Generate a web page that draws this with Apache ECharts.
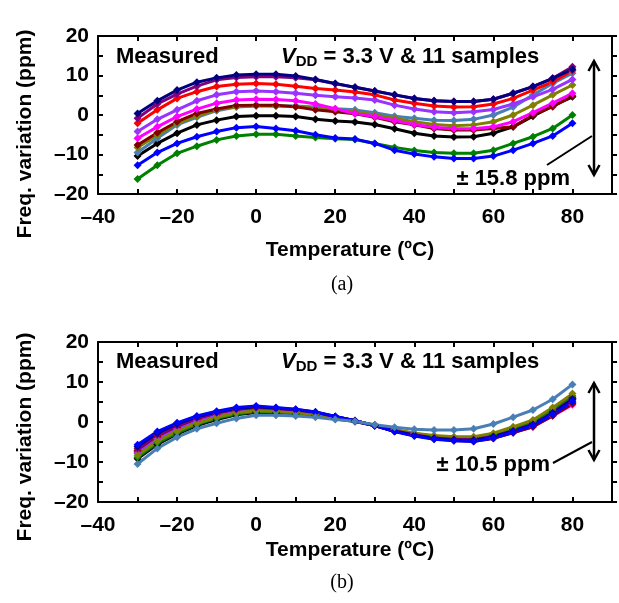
<!DOCTYPE html>
<html>
<head>
<meta charset="utf-8">
<script src="https://cdn.jsdelivr.net/npm/echarts@6/dist/echarts.min.js"></script>
<style>
  html, body { margin: 0; padding: 0; background: #fff; }
  #chart { width: 619px; height: 603px; }
</style>
</head>
<body>
<div id="chart"></div>
<script>
// temperature points (ºC)
var tempC = [-30, -25, -20, -15, -10, -5, 0, 5, 10, 15, 20, 25, 30, 35, 40, 45, 50, 55, 60, 65, 70, 75, 80]

// (a) before calibration, ppm
var aNavy    = [0.4, 3.6, 6.3, 8.3, 9.4, 10.1, 10.3, 10.3, 9.9, 9.0, 8.0, 7.0, 6.1, 5.1, 4.2, 3.6, 3.4, 3.4, 4.0, 5.5, 7.2, 9.3, 11.6]
var aPurple  = [-0.8, 2.8, 5.3, 7.3, 8.9, 9.5, 9.7, 9.7, 9.4, 8.9, 7.9, 7.0, 6.1, 5.1, 4.2, 3.6, 3.4, 3.4, 4.0, 5.5, 7.2, 9.3, 12.2]
var aRed     = [-2.1, 1.3, 4.2, 5.9, 7.2, 7.8, 8.0, 7.8, 7.3, 6.7, 6.3, 5.8, 5.1, 3.8, 3.0, 2.3, 2.0, 2.1, 2.8, 4.2, 6.3, 8.4, 11.2]
var aViolet  = [-4.2, -1.1, 1.3, 3.6, 5.1, 5.9, 6.1, 5.9, 5.5, 5.0, 4.6, 4.3, 3.8, 2.5, 1.5, 0.8, 0.6, 0.8, 1.4, 2.8, 4.6, 6.5, 9.0]
var aMagenta = [-5.9, -3.0, -0.4, 1.5, 3.0, 3.8, 4.0, 3.9, 3.6, 2.8, 1.6, 0.4, -0.4, -1.4, -2.4, -3.1, -3.5, -3.5, -3.0, -1.7, 0.6, 3.0, 5.5]
var aDarkRed = [-7.6, -4.5, -1.7, 0.4, 1.5, 2.4, 2.5, 2.5, 2.1, 1.3, 0.8, 0.3, -0.6, -1.7, -2.5, -3.4, -3.8, -3.8, -3.4, -3.0, 0.0, 2.1, 4.8]
var aOlive   = [-8.2, -5.1, -2.1, -0.3, 1.3, 2.1, 2.4, 2.3, 2.1, 1.7, 1.2, 0.8, 0.0, -0.8, -1.7, -2.4, -2.7, -2.5, -1.7, 0.0, 2.5, 5.1, 7.6]
var aSteel   = [-9.5, -5.9, -2.5, -0.6, 1.1, 2.0, 2.3, 2.3, 2.3, 2.0, 1.6, 1.3, 0.6, -0.3, -0.8, -1.3, -1.4, -1.1, 0.0, 2.0, 5.1, 8.0, 10.6]
var aBlack   = [-10.4, -7.2, -4.6, -2.5, -1.3, -0.4, -0.2, -0.2, -0.4, -1.1, -1.5, -1.8, -2.4, -3.5, -4.6, -5.3, -5.6, -5.5, -4.6, -3.0, -0.3, 2.3, 4.6]
var aBlue    = [-12.7, -9.5, -7.2, -5.5, -4.2, -3.2, -2.9, -3.4, -4.0, -5.0, -5.8, -6.1, -7.2, -8.9, -9.9, -10.6, -11.0, -11.0, -10.4, -8.9, -7.2, -5.3, -2.1]
var aGreen   = [-16.2, -12.7, -9.7, -7.9, -6.3, -5.3, -4.9, -4.9, -5.3, -5.7, -6.0, -6.2, -7.2, -8.2, -9.0, -9.5, -9.7, -9.7, -8.9, -7.2, -5.5, -3.4, 0.0]

// (b) after calibration, ppm
var bBlue    = [-5.7, -2.4, -0.2, 1.5, 2.7, 3.6, 4.0, 3.6, 3.2, 2.5, 1.4, 0.3, -0.9, -2.4, -3.5, -4.3, -4.7, -4.9, -4.0, -2.5, -0.9, 1.9, 5.2]
var bNavy    = [-6.1, -2.8, -0.5, 1.3, 2.5, 3.4, 3.8, 3.5, 3.1, 2.5, 1.4, 0.3, -0.9, -2.3, -3.3, -4.1, -4.5, -4.6, -3.7, -2.3, -0.7, 2.2, 5.6]
var bPurple  = [-6.6, -3.2, -0.9, 1.0, 2.3, 3.2, 3.6, 3.4, 3.0, 2.4, 1.3, 0.3, -0.9, -2.2, -3.2, -4.0, -4.3, -4.4, -3.6, -2.2, -0.6, 2.3, 5.8]
var bDarkRed = [-7.1, -3.6, -1.3, 0.7, 2.0, 3.0, 3.4, 3.2, 2.9, 2.3, 1.3, 0.3, -0.9, -2.3, -3.4, -4.2, -4.6, -4.8, -4.1, -2.7, -1.2, 1.6, 4.6]
var bRed     = [-7.3, -3.8, -1.5, 0.5, 1.8, 2.8, 3.3, 3.1, 2.8, 2.2, 1.2, 0.3, -0.9, -2.3, -3.3, -4.1, -4.5, -4.7, -4.0, -2.6, -1.1, 1.7, 4.8]
var bMagenta = [-7.6, -4.1, -1.7, 0.3, 1.7, 2.7, 3.1, 3.0, 2.7, 2.1, 1.1, 0.2, -0.9, -2.2, -3.3, -4.0, -4.4, -4.6, -4.0, -2.6, -1.2, 1.5, 4.3]
var bViolet  = [-7.8, -4.3, -1.9, 0.1, 1.5, 2.5, 3.0, 2.9, 2.6, 2.0, 1.1, 0.2, -0.9, -2.1, -3.1, -3.8, -4.1, -4.2, -3.5, -2.1, -0.5, 2.4, 5.9]
var bOlive   = [-8.3, -4.8, -2.3, -0.3, 1.2, 2.3, 2.8, 2.7, 2.4, 1.9, 1.0, 0.2, -0.8, -1.9, -2.8, -3.4, -3.7, -3.7, -2.8, -1.2, 0.5, 3.6, 7.1]
var bGreen   = [-8.8, -5.2, -2.7, -0.6, 0.9, 2.0, 2.6, 2.5, 2.2, 1.8, 0.9, 0.2, -0.8, -2.0, -2.9, -3.6, -3.9, -3.9, -3.1, -1.6, 0.1, 3.0, 6.5]
var bBlack   = [-9.2, -5.6, -3.0, -0.9, 0.6, 1.8, 2.4, 2.3, 2.1, 1.7, 0.8, 0.1, -0.9, -2.1, -3.1, -3.8, -4.1, -4.1, -3.4, -1.9, -0.3, 2.5, 6.0]
var bSteel   = [-10.5, -6.6, -3.8, -1.7, -0.3, 0.9, 1.7, 1.7, 1.5, 1.2, 0.6, 0.2, -0.7, -1.3, -1.8, -2.0, -2.0, -1.7, -0.5, 1.2, 3.0, 5.7, 9.4]

var sampleColors = {
  navy: '#000080', purple: '#800080', red: '#ff0000', violet: '#9933ff', magenta: '#ff00ff',
  darkRed: '#800000', olive: '#808000', steel: '#4a7fb5', black: '#000000', blue: '#0000ff', green: '#008000'
}

var topSets = [
  ['green', aGreen], ['blue', aBlue], ['black', aBlack], ['steel', aSteel], ['olive', aOlive], ['darkRed', aDarkRed],
  ['magenta', aMagenta], ['violet', aViolet], ['red', aRed], ['purple', aPurple], ['navy', aNavy]
]
var botSets = [
  ['magenta', bMagenta], ['red', bRed], ['darkRed', bDarkRed], ['violet', bViolet], ['black', bBlack], ['green', bGreen],
  ['olive', bOlive], ['purple', bPurple], ['navy', bNavy], ['blue', bBlue], ['steel', bSteel]
]

var FONT = 'Liberation Sans, Arial, sans-serif'

function dash(v) {
  return String(v).replace('-', '\u2013')
}

function makeSeries(sets, axisIdx) {
  return sets.map(function (s) {
    return {
      type: 'line',
      xAxisIndex: axisIdx,
      yAxisIndex: axisIdx,
      data: tempC.map(function (t, i) { return [t, s[1][i]] }),
      symbol: 'diamond',
      symbolSize: 8,
      showSymbol: true,
      lineStyle: { width: 3, color: sampleColors[s[0]] },
      itemStyle: { color: sampleColors[s[0]] },
      silent: true
    }
  })
}

function xAxes(gridIdx) {
  return [{
    gridIndex: gridIdx,
    type: 'value',
    position: 'bottom',
    min: -40,
    max: 90,
    interval: 10,
    axisLine: { onZero: false, lineStyle: { color: '#000', width: 2 } },
    axisTick: { inside: true, length: 5, lineStyle: { color: '#000', width: 2 } },
    axisLabel: {
      margin: 13,
      color: '#000',
      fontFamily: FONT,
      fontWeight: 'bold',
      fontSize: 21,
      formatter: function (v) { return (v % 20 === 0 && v !== 90) ? dash(v) : '' }
    },
    splitLine: { show: false }
  }, {
    gridIndex: gridIdx,
    type: 'value',
    position: 'top',
    min: -40,
    max: 90,
    interval: 10,
    axisLine: { onZero: false, lineStyle: { color: '#000', width: 2 } },
    axisTick: { inside: true, length: 5, lineStyle: { color: '#000', width: 2 } },
    axisLabel: { show: false },
    splitLine: { show: false }
  }]
}

function yAxes(gridIdx) {
  return [{
    gridIndex: gridIdx,
    type: 'value',
    position: 'left',
    min: -20,
    max: 20,
    interval: 5,
    axisLine: { onZero: false, lineStyle: { color: '#000', width: 2 } },
    axisTick: { inside: true, length: 5, lineStyle: { color: '#000', width: 2 } },
    axisLabel: {
      margin: 9,
      color: '#000',
      fontFamily: FONT,
      fontWeight: 'bold',
      fontSize: 21,
      formatter: function (v) { return v % 10 === 0 ? dash(v) : '' }
    },
    splitLine: { show: false }
  }, {
    gridIndex: gridIdx,
    type: 'value',
    position: 'right',
    min: -20,
    max: 20,
    interval: 5,
    axisLine: { onZero: false, lineStyle: { color: '#000', width: 2 } },
    axisTick: { inside: false, length: 5, lineStyle: { color: '#000', width: 2 } },
    axisLabel: { show: false },
    splitLine: { show: false }
  }]
}

function panelText(yTop, rangeText, arrowTop, arrowBot, lineFrom, lineTo, rangeY, rangeRight) {
  var bold = 'bold 22px ' + FONT
  return [
    { type: 'text', left: 116, top: yTop, style: { text: 'Measured', font: bold, fill: '#000' } },
    {
      type: 'text', left: 281, top: yTop,
      style: {
        text: '{v|V}{s|DD}{n| = 3.3 V & 11 samples}',
        rich: {
          v: { font: 'italic bold 22px ' + FONT, fill: '#000' },
          s: { font: 'bold 15px ' + FONT, fill: '#000', padding: [10, 0, 0, 0] },
          n: { font: bold, fill: '#000' }
        }
      }
    },
    { type: 'text', right: 619 - rangeRight, top: rangeY, style: { text: rangeText, font: bold, fill: '#000' } },
    { type: 'line', shape: { x1: 594, y1: arrowTop, x2: 594, y2: arrowBot }, style: { stroke: '#000', lineWidth: 2.5 } },
    { type: 'polyline', shape: { points: [[588.5, arrowTop + 10], [594, arrowTop], [599.5, arrowTop + 10]] }, style: { stroke: '#000', lineWidth: 2.5, fill: null } },
    { type: 'polyline', shape: { points: [[588.5, arrowBot - 10], [594, arrowBot], [599.5, arrowBot - 10]] }, style: { stroke: '#000', lineWidth: 2.5, fill: null } },
    { type: 'line', shape: { x1: lineFrom[0], y1: lineFrom[1], x2: lineTo[0], y2: lineTo[1] }, style: { stroke: '#000', lineWidth: 2 } }
  ]
}

var chart = echarts.init(document.getElementById('chart'))
chart.setOption({
  animation: false,
  backgroundColor: '#fff',
  grid: [
    { left: 98, top: 36, width: 514, height: 158 },
    { left: 98, top: 342, width: 514, height: 160 }
  ],
  xAxis: xAxes(0).concat(xAxes(1)),
  yAxis: yAxes(0).concat(yAxes(1)),
  series: makeSeries(topSets, 0).concat(makeSeries(botSets, 2)),
  graphic: [
    { type: 'text', x: 25, y: 134, rotation: Math.PI / 2, style: { text: 'Freq. variation (ppm)', font: 'bold 21px ' + FONT, fill: '#000', textAlign: 'center', textVerticalAlign: 'middle' } },
    { type: 'text', x: 25, y: 437, rotation: Math.PI / 2, style: { text: 'Freq. variation (ppm)', font: 'bold 21px ' + FONT, fill: '#000', textAlign: 'center', textVerticalAlign: 'middle' } },
    { type: 'text', x: 350, y: 250, style: { text: 'Temperature (\u00baC)', font: 'bold 21px ' + FONT, fill: '#000', textAlign: 'center', textVerticalAlign: 'middle' } },
    { type: 'text', x: 350, y: 550, style: { text: 'Temperature (\u00baC)', font: 'bold 21px ' + FONT, fill: '#000', textAlign: 'center', textVerticalAlign: 'middle' } },
    { type: 'text', x: 342, y: 285, style: { text: '(a)', font: '20px Liberation Serif, serif', fill: '#000', textAlign: 'center', textVerticalAlign: 'middle' } },
    { type: 'text', x: 342, y: 583, style: { text: '(b)', font: '20px Liberation Serif, serif', fill: '#000', textAlign: 'center', textVerticalAlign: 'middle' } }
  ].concat(
    panelText(46, '\u00b1 15.8 ppm', 61, 175, [547, 165], [592, 136], 168, 570),
    panelText(351, '\u00b1 10.5 ppm', 383, 460, [553, 463], [592, 442], 454, 550)
  )
})
</script>
</body>
</html>
